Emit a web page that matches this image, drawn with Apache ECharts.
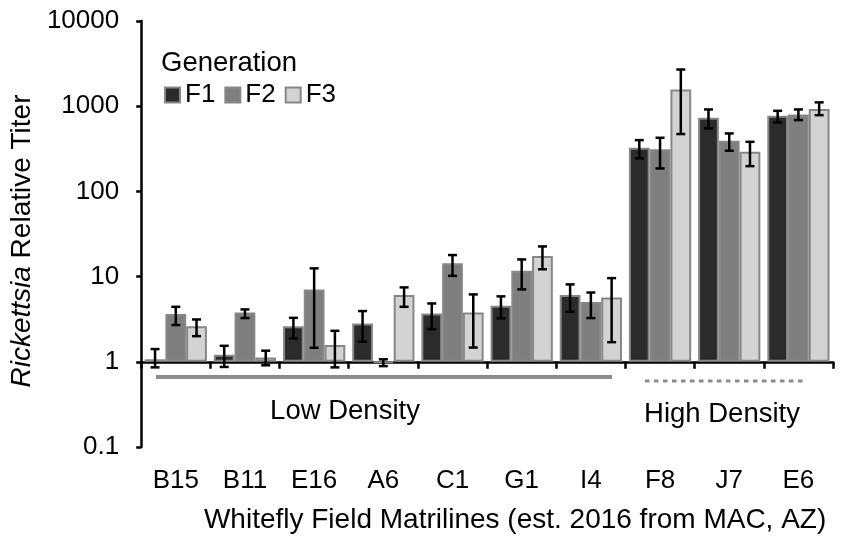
<!DOCTYPE html>
<html>
<head>
<meta charset="utf-8">
<script src="https://cdn.jsdelivr.net/npm/echarts@6/dist/echarts.min.js"></script>
<style>
  html, body { margin: 0; padding: 0; background: #fff; }
  #main { width: 841px; height: 539px; }
</style>
</head>
<body>
<div id="main"></div>
<script>
// matrilines and generations
var categories = ['B15', 'B11', 'E16', 'A6', 'C1', 'G1', 'I4', 'F8', 'J7', 'E6'];
var generations = ['F1', 'F2', 'F3'];

// mean relative titer
var f1Values = [1.07, 1.21, 2.62, 2.82, 3.7, 4.54, 6.07, 325, 731, 771];
var f2Values = [3.63, 3.8, 7.07, 0.97, 14.3, 11.7, 5.02, 313, 393, 801];
var f3Values = [2.62, 1.12, 1.57, 6.07, 3.8, 17.4, 5.7, 1575, 292, 925];

// error bar ends [low, high]
var f1Err = [[0.86, 1.41], [0.87, 1.54], [1.88, 3.28], [1.72, 3.94], [2.42, 4.84], [3.23, 5.86], [3.86, 8.1], [244, 400], [549, 916], [645, 883]];
var f2Err = [[2.7, 4.42], [3.26, 4.12], [1.46, 12.5], [0.89, 1.07], [10.2, 17.9], [7.08, 15.9], [3.26, 6.5], [186, 426], [300, 479], [687, 916]];
var f3Err = [[2.0, 3.14], [0.91, 1.35], [0.86, 2.31], [4.42, 7.47], [1.47, 6.18], [12.2, 22.6], [1.7, 9.6], [471, 2695], [198, 382], [785, 1109]];

// y axis ticks
var yTicks = [0.1, 1, 10, 100, 1000, 10000];

var fontFam = '"Liberation Sans", Arial, sans-serif';
var barColors = ['#2b2b2b', '#7f7f7f', '#d3d3d3'];
var gridTop = 21, gridBottom = 92, gridLeft = 137, gridRight = 8;
var gridH = 539 - gridTop - gridBottom;
var catGap = 0.1;

function errData(arr) {
    return arr.map(function (e, i) { return [i, e[0], e[1]]; });
}

// 误差线
function renderErr(idx) {
    return function (params, api) {
        var band = api.size([1, 0], [0, 1])[0];
        var barW = band * (1 - catGap) / 3;
        var cx = api.coord([api.value(0), 1])[0] + (idx - 1) * barW;
        var yLo = api.coord([api.value(0), api.value(1)])[1];
        var yHi = api.coord([api.value(0), api.value(2)])[1];
        var cap = 4.5;
        var st = { stroke: '#000', lineWidth: 2.5 };
        return {
            type: 'group',
            children: [
                { type: 'line', shape: { x1: cx, y1: yLo, x2: cx, y2: yHi }, style: st },
                { type: 'line', shape: { x1: cx - cap, y1: yLo, x2: cx + cap, y2: yLo }, style: st },
                { type: 'line', shape: { x1: cx - cap, y1: yHi, x2: cx + cap, y2: yHi }, style: st }
            ]
        };
    };
}

var valueLists = [f1Values, f2Values, f3Values];
var errLists = [f1Err, f2Err, f3Err];
var series = [];
generations.forEach(function (g, i) {
    series.push({
        name: g,
        type: 'bar',
        xAxisIndex: 0,
        data: valueLists[i],
        barGap: '0%',
        barCategoryGap: (catGap * 100) + '%',
        itemStyle: { color: barColors[i], borderColor: '#878787', borderWidth: 2 },
        emphasis: { disabled: true }
    });
});
generations.forEach(function (g, i) {
    series.push({
        type: 'custom',
        xAxisIndex: 0,
        renderItem: renderErr(i),
        data: errData(errLists[i]),
        z: 5,
        silent: true
    });
});

var option = {
    animation: false,
    backgroundColor: '#fff',
    textStyle: { fontFamily: fontFam },
    title: {
        text: 'Generation',
        left: 161,
        top: 49,
        padding: 0,
        textStyle: { fontSize: 27.5, fontWeight: 'normal', color: '#000', fontFamily: fontFam }
    },
    legend: {
        data: generations,
        left: 164,
        top: 82,
        padding: 0,
        icon: 'rect',
        itemWidth: 15,
        itemHeight: 15,
        itemGap: 9,
        textStyle: { fontSize: 26, color: '#000', fontFamily: fontFam }
    },
    grid: { left: gridLeft, right: gridRight, top: gridTop, bottom: gridBottom },
    xAxis: [{
        type: 'category',
        data: categories,
        position: 'bottom',
        axisLine: { show: false },
        axisTick: { show: false },
        axisLabel: { fontSize: 26, color: '#000', margin: 21, fontFamily: fontFam },
        name: 'Whitefly Field Matrilines (est. 2016 from MAC, AZ)',
        nameLocation: 'middle',
        nameGap: 59,
        nameTextStyle: { fontSize: 28, color: '#000', padding: [0, 0, 0, 56], fontFamily: fontFam }
    }, {
        // the line crossing at 1
        type: 'category',
        data: categories,
        position: 'bottom',
        offset: -gridH / 5,
        axisLine: { show: true, lineStyle: { color: '#000', width: 2.5 } },
        axisTick: { show: true, length: 7, lineStyle: { color: '#000', width: 2.5 } },
        axisLabel: { show: false }
    }],
    yAxis: {
        type: 'log',
        logBase: 10,
        min: yTicks[0],
        max: yTicks[yTicks.length - 1],
        axisLine: { show: true, lineStyle: { color: '#000', width: 2.5 } },
        axisTick: { show: true, length: 5, lineStyle: { color: '#000', width: 2.5 } },
        splitLine: { show: false },
        axisLabel: {
            fontSize: 26, color: '#000', margin: 22, fontFamily: fontFam,
            formatter: function (v) { return String(v); }
        },
        name: '{it|Rickettsia} Relative Titer',
        nameLocation: 'middle',
        nameGap: 97,
        nameTextStyle: {
            fontSize: 28, color: '#000', fontFamily: fontFam, padding: [0, 14, 0, 0],
            rich: { it: { fontStyle: 'italic', fontSize: 28, color: '#000', fontFamily: fontFam } }
        }
    },
    graphic: [
        { type: 'line', shape: { x1: 156, y1: 377, x2: 612, y2: 377 }, style: { stroke: '#8c8c8c', lineWidth: 4 } },
        { type: 'line', shape: { x1: 645, y1: 381, x2: 807, y2: 381 }, style: { stroke: '#8c8c8c', lineWidth: 3, lineDash: [4.5, 4.5] } },
        { type: 'text', x: 345, y: 411, style: { text: 'Low Density', fontSize: 27.5, fill: '#000', fontFamily: fontFam, align: 'center', verticalAlign: 'middle' } },
        { type: 'text', x: 722, y: 414, style: { text: 'High Density', fontSize: 27.5, fill: '#000', fontFamily: fontFam, align: 'center', verticalAlign: 'middle' } }
    ],
    series: series
};

var chart = echarts.init(document.getElementById('main'));
chart.setOption(option);
</script>
</body>
</html>
